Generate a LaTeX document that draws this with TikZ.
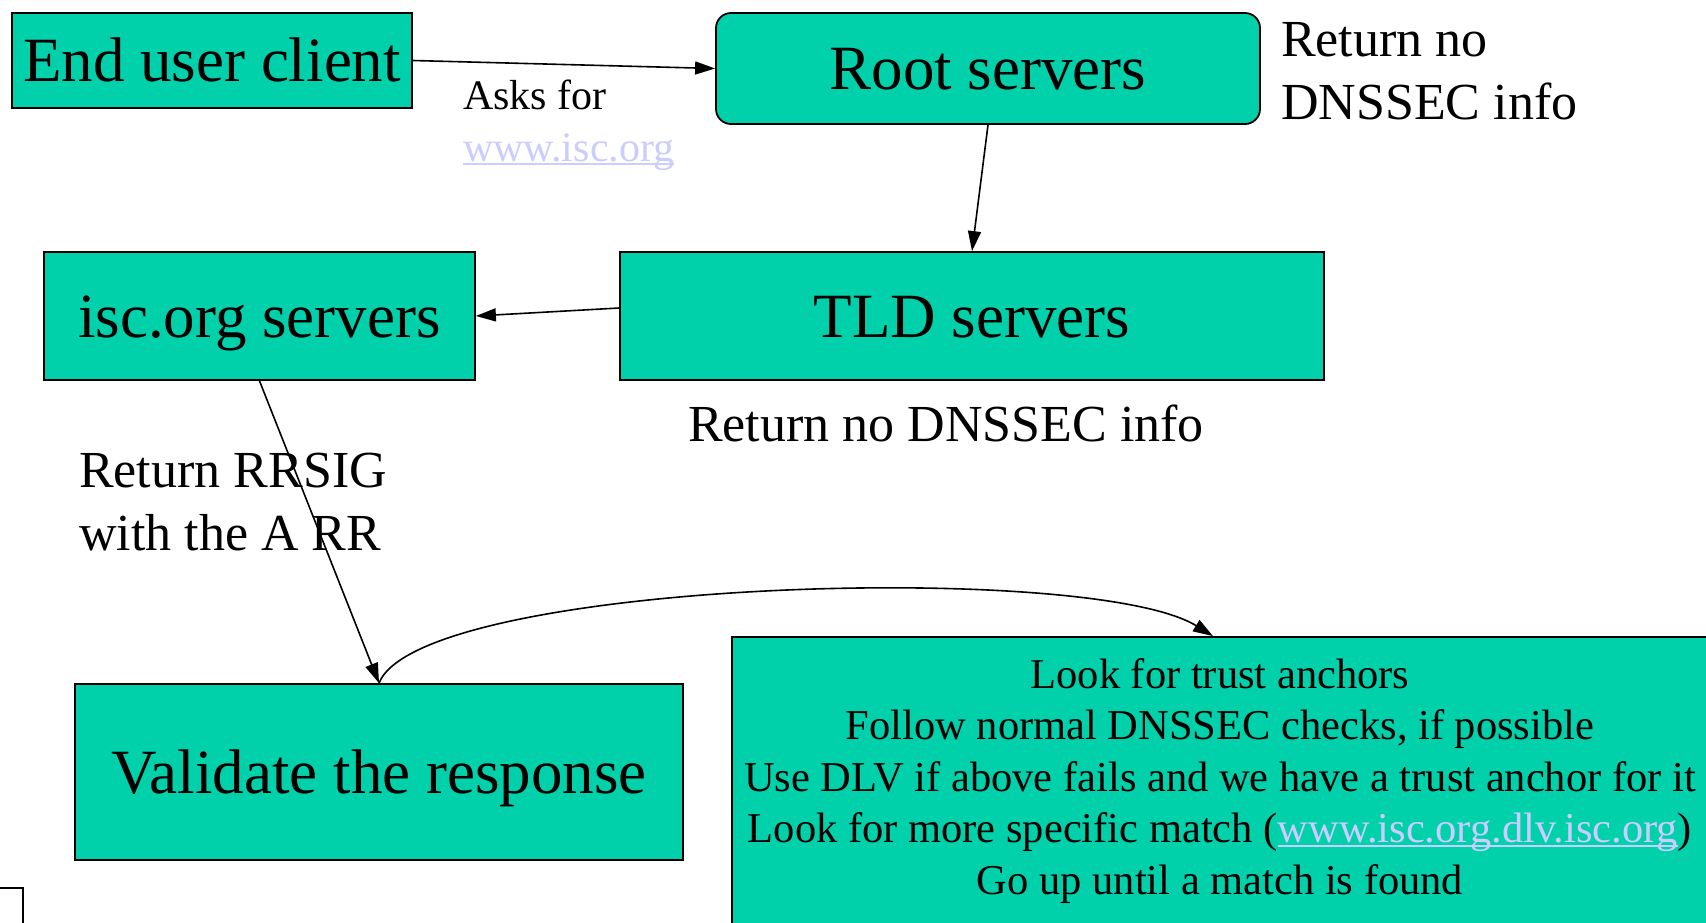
\documentclass[tikz,border=0pt]{standalone}
\usepackage{fontspec}
\setmainfont{Liberation Serif}
\usetikzlibrary{arrows.meta}
\definecolor{boxfill}{RGB}{0,209,170}
\definecolor{linkc}{RGB}{204,204,255}
\newcommand\ulink[1]{{\color{linkc}\setbox0\hbox{#1}\rlap{\rule[-0.09em]{\wd0}{0.05em}}\box0}}
\newcommand\fsz[2]{\fontsize{#1}{#2}\selectfont}
\tikzset{
  box/.style={draw=black, line width=1.8pt, fill=boxfill, inner sep=0pt},
  oneline/.style={text height=42pt, text depth=0pt},
  lbl/.style={inner sep=0pt, anchor=west, align=left},
  conn/.style={draw=black, line width=1.6pt, -{Triangle[length=20pt,width=13pt]}},
}
\begin{document}
\begin{tikzpicture}[x=1pt,y=-1pt]
\useasboundingbox (0,0) rectangle (1706,922);
\clip (0,0) rectangle (1706,922);
\fill[white] (0,0) rectangle (1706,922);

\node[box, oneline, minimum width=400pt, minimum height=95pt, font=\fsz{63}{70}] (eu) at (212,60.5) {End user client};
\node[box, oneline, rounded corners=15pt, minimum width=544pt, minimum height=111pt, font=\fsz{63}{70}] (root) at (988,68.5) {Root servers};
\node[box, oneline, minimum width=704pt, minimum height=128pt, font=\fsz{63}{70}] (tld) at (972,316) {TLD servers};
\node[box, oneline, minimum width=431pt, minimum height=128pt, font=\fsz{63}{70}] (isc) at (259.5,316) {isc.org servers};
\node[box, oneline, minimum width=608pt, minimum height=176pt, font=\fsz{63}{70}] (val) at (379,772) {Validate the response};
\node[box, align=center, minimum width=976pt, minimum height=288pt, font=\fsz{42.5}{51.5}] (rb) at (1220,781) {Look for trust anchors\\Follow normal DNSSEC checks, if possible\\Use DLV if above fails and we have a trust anchor for it\\Look for more specific match (\ulink{www.isc.org.dlv.isc.org})\\Go up until a match is found};

\node[lbl, font=\fsz{42}{52}] (asks) at (463,125) {Asks for\\\ulink{www.isc.org}};
\node[lbl, font=\fsz{52}{63}] (rootnote) at (1281,71) {Return no\\DNSSEC info};
\node[lbl, font=\fsz{52}{63}] (tldnote) at (688,423) {Return no DNSSEC info};
\node[lbl, font=\fsz{52}{63}] (iscnote) at (79,502) {Return RRSIG\\with the A RR};

\draw[line width=1.2pt] (-5,888) rectangle (23,940);

\draw[conn] (eu.east) -- (root.west);
\draw[conn] (root.south) -- (tld.north);
\draw[conn] ([yshift=8pt]tld.west) -- (isc.east);
\draw[conn] (isc.south) -- (val.north);
\draw[conn] (val.north) .. controls (420,580) and (1090,560) .. ([xshift=-7pt]rb.north);
\end{tikzpicture}
\end{document}
